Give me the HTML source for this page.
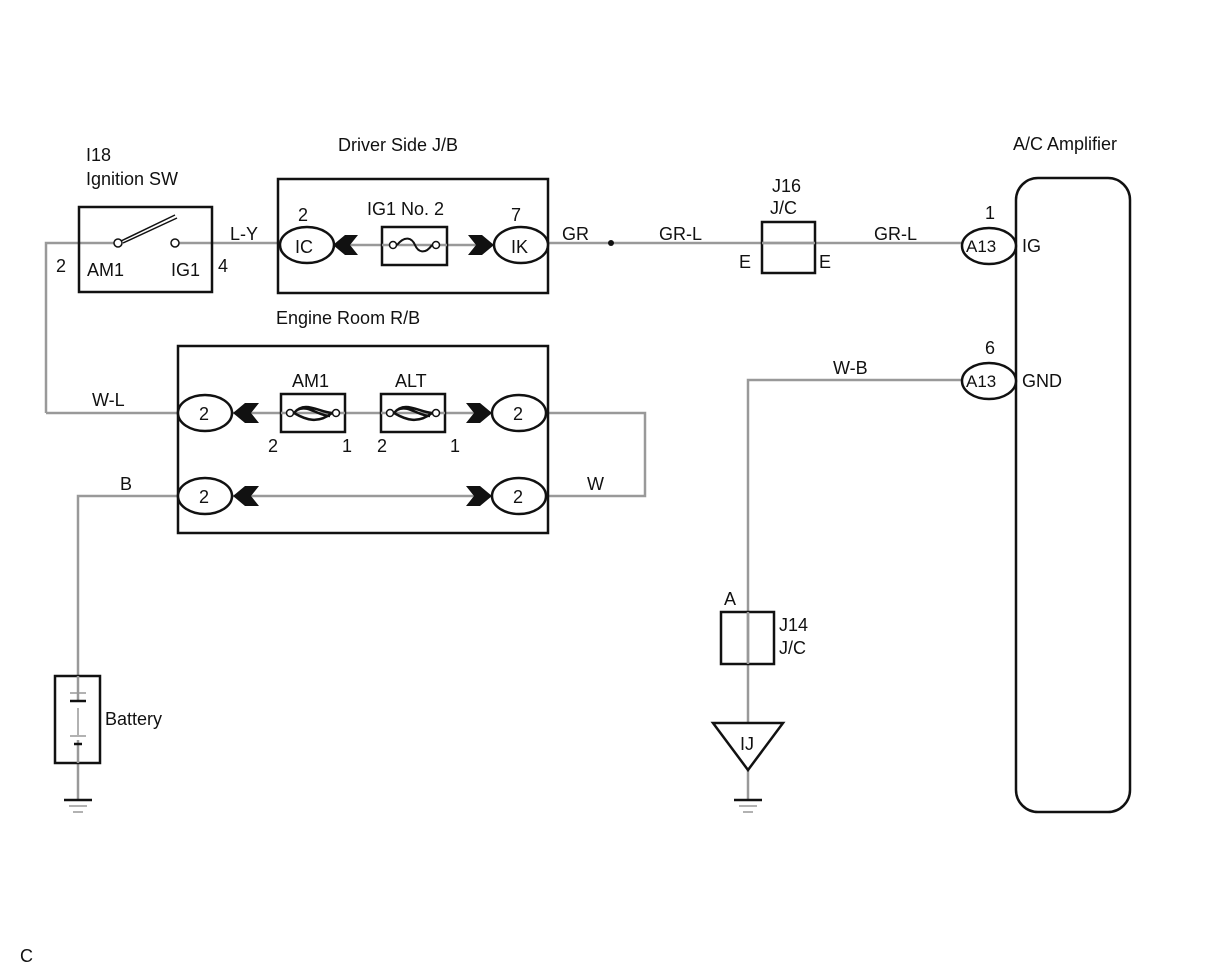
<!DOCTYPE html>
<html><head><meta charset="utf-8"><style>
html,body{margin:0;padding:0;background:#fff;}
svg{display:block;}
text{font-family:"Liberation Sans",sans-serif;font-size:18px;fill:#111;}
</style></head><body>
<svg width="1212" height="974" viewBox="0 0 1212 974" xmlns="http://www.w3.org/2000/svg">
<g stroke="#999" stroke-width="2.5" fill="none">
<polyline points="46,413 46,243 118,243"/>
<line x1="175" y1="243" x2="280" y2="243"/>
<line x1="334" y1="245" x2="494" y2="245"/>
<line x1="548" y1="243" x2="964" y2="243"/>
<line x1="46" y1="413" x2="180" y2="413"/>
<line x1="232" y1="413" x2="492" y2="413"/>
<polyline points="546,413 645,413 645,496 546,496"/>
<line x1="232" y1="496" x2="492" y2="496"/>
<polyline points="180,496 78,496 78,800"/>
<polyline points="964,380 748,380 748,800"/>
</g>
<g stroke="#111" stroke-width="2.5" fill="#fff">
<rect x="79" y="207" width="133" height="85" fill="none"/>
<rect x="278" y="179" width="270" height="114" fill="none"/>
<rect x="382" y="227" width="65" height="38"/>
<rect x="178" y="346" width="370" height="187" fill="none"/>
<rect x="281" y="394" width="64" height="38"/>
<rect x="381" y="394" width="64" height="38"/>
<rect x="762" y="222" width="53" height="51" fill="none"/>
<rect x="721" y="612" width="53" height="52" fill="none"/>
<rect x="55" y="676" width="45" height="87"/>
<rect x="1016" y="178" width="114" height="634" rx="22" fill="none"/>
<ellipse cx="307" cy="245" rx="27" ry="18"/>
<ellipse cx="521" cy="245" rx="27" ry="18"/>
<ellipse cx="205" cy="413" rx="27" ry="18"/>
<ellipse cx="519" cy="413" rx="27" ry="18"/>
<ellipse cx="205" cy="496" rx="27" ry="18"/>
<ellipse cx="519" cy="496" rx="27" ry="18"/>
<ellipse cx="989" cy="246" rx="27" ry="18"/>
<ellipse cx="989" cy="381" rx="27" ry="18"/>
<polygon points="713,723 783,723 748,770"/>
</g>
<g stroke="#999" stroke-width="2.5">
<line x1="748" y1="612" x2="748" y2="664"/>
<line x1="762" y1="243" x2="815" y2="243"/>
<line x1="382" y1="245" x2="447" y2="245"/>
<line x1="281" y1="413" x2="345" y2="413"/>
<line x1="381" y1="413" x2="445" y2="413"/>
<line x1="78" y1="676" x2="78" y2="700"/>
<line x1="78" y1="740" x2="78" y2="763"/>
</g>
<g stroke="#111" stroke-width="1.5" fill="#fff">
<circle cx="118" cy="243" r="4"/><circle cx="175" cy="243" r="4"/>
<line x1="121" y1="241" x2="175" y2="215"/>
<line x1="123" y1="243" x2="177" y2="218"/>
<circle cx="393" cy="245" r="3.5"/><circle cx="436" cy="245" r="3.5"/>
<path d="M397,245 C405,235 412,238 415,245 C418,252 425,255 432,245" fill="none" stroke-width="2"/>
<circle cx="290" cy="413" r="3.5"/><circle cx="336" cy="413" r="3.5"/>
<path d="M294,413 C305,400 318,412 332,413 M294,413 C306,420 318,424 332,413 M297,410 C308,404 318,416 330,416" fill="none" stroke-width="2.5"/>
<circle cx="390" cy="413" r="3.5"/><circle cx="436" cy="413" r="3.5"/>
<path d="M394,413 C405,400 418,412 432,413 M394,413 C406,420 418,424 432,413 M397,410 C408,404 418,416 430,416" fill="none" stroke-width="2.5"/>
</g>
<g fill="#111">
<polygon points="333,245 345,235 358,235 350,245 358,255 345,255"/>
<polygon points="494,245 482,235 468,235 476,245 468,255 482,255"/>
<polygon points="233,413 245,403 259,403 251,413 259,423 245,423"/>
<polygon points="492,413 480,403 466,403 474,413 466,423 480,423"/>
<polygon points="233,496 245,486 259,486 251,496 259,506 245,506"/>
<polygon points="492,496 480,486 466,486 474,496 466,506 480,506"/>
<circle cx="611" cy="243" r="3"/>
</g>
<g stroke="#111" stroke-width="2.5">
<line x1="70" y1="701" x2="86" y2="701"/>
<line x1="74" y1="744" x2="82" y2="744"/>
<line x1="64" y1="800" x2="92" y2="800"/>
<line x1="734" y1="800" x2="762" y2="800"/>
</g>
<g stroke="#999" stroke-width="1.5">
<line x1="70" y1="693" x2="86" y2="693"/>
<line x1="78" y1="708" x2="78" y2="735"/>
<line x1="70" y1="736" x2="86" y2="736"/>
<line x1="69" y1="806" x2="87" y2="806"/><line x1="73" y1="812" x2="83" y2="812"/>
<line x1="739" y1="806" x2="757" y2="806"/><line x1="743" y1="812" x2="753" y2="812"/>
</g>
<text x="86" y="161">I18</text>
<text x="86" y="185">Ignition SW</text>
<text x="338" y="151">Driver Side J/B</text>
<text x="1013" y="150">A/C Amplifier</text>
<text x="56" y="272">2</text>
<text x="87" y="276">AM1</text>
<text x="171" y="276">IG1</text>
<text x="218" y="272">4</text>
<text x="230" y="240">L-Y</text>
<text x="298" y="221">2</text>
<text x="367" y="215">IG1 No. 2</text>
<text x="511" y="221">7</text>
<text x="295" y="253">IC</text>
<text x="511" y="253">IK</text>
<text x="562" y="240">GR</text>
<text x="659" y="240">GR-L</text>
<text x="772" y="192">J16</text>
<text x="770" y="214">J/C</text>
<text x="739" y="268">E</text>
<text x="819" y="268">E</text>
<text x="874" y="240">GR-L</text>
<text x="985" y="219">1</text>
<text x="966" y="252" style="font-size:17px">A13</text>
<text x="1022" y="252">IG</text>
<text x="276" y="324">Engine Room R/B</text>
<text x="92" y="406">W-L</text>
<text x="292" y="387">AM1</text>
<text x="395" y="387">ALT</text>
<text x="199" y="420">2</text>
<text x="513" y="420">2</text>
<text x="268" y="452">2</text>
<text x="342" y="452">1</text>
<text x="377" y="452">2</text>
<text x="450" y="452">1</text>
<text x="120" y="490">B</text>
<text x="199" y="503">2</text>
<text x="513" y="503">2</text>
<text x="587" y="490">W</text>
<text x="833" y="374">W-B</text>
<text x="985" y="354">6</text>
<text x="966" y="387" style="font-size:17px">A13</text>
<text x="1022" y="387">GND</text>
<text x="724" y="605">A</text>
<text x="779" y="631">J14</text>
<text x="779" y="654">J/C</text>
<text x="105" y="725">Battery</text>
<text x="740" y="750">IJ</text>
<text x="20" y="962">C</text>
</svg>
</body></html>
